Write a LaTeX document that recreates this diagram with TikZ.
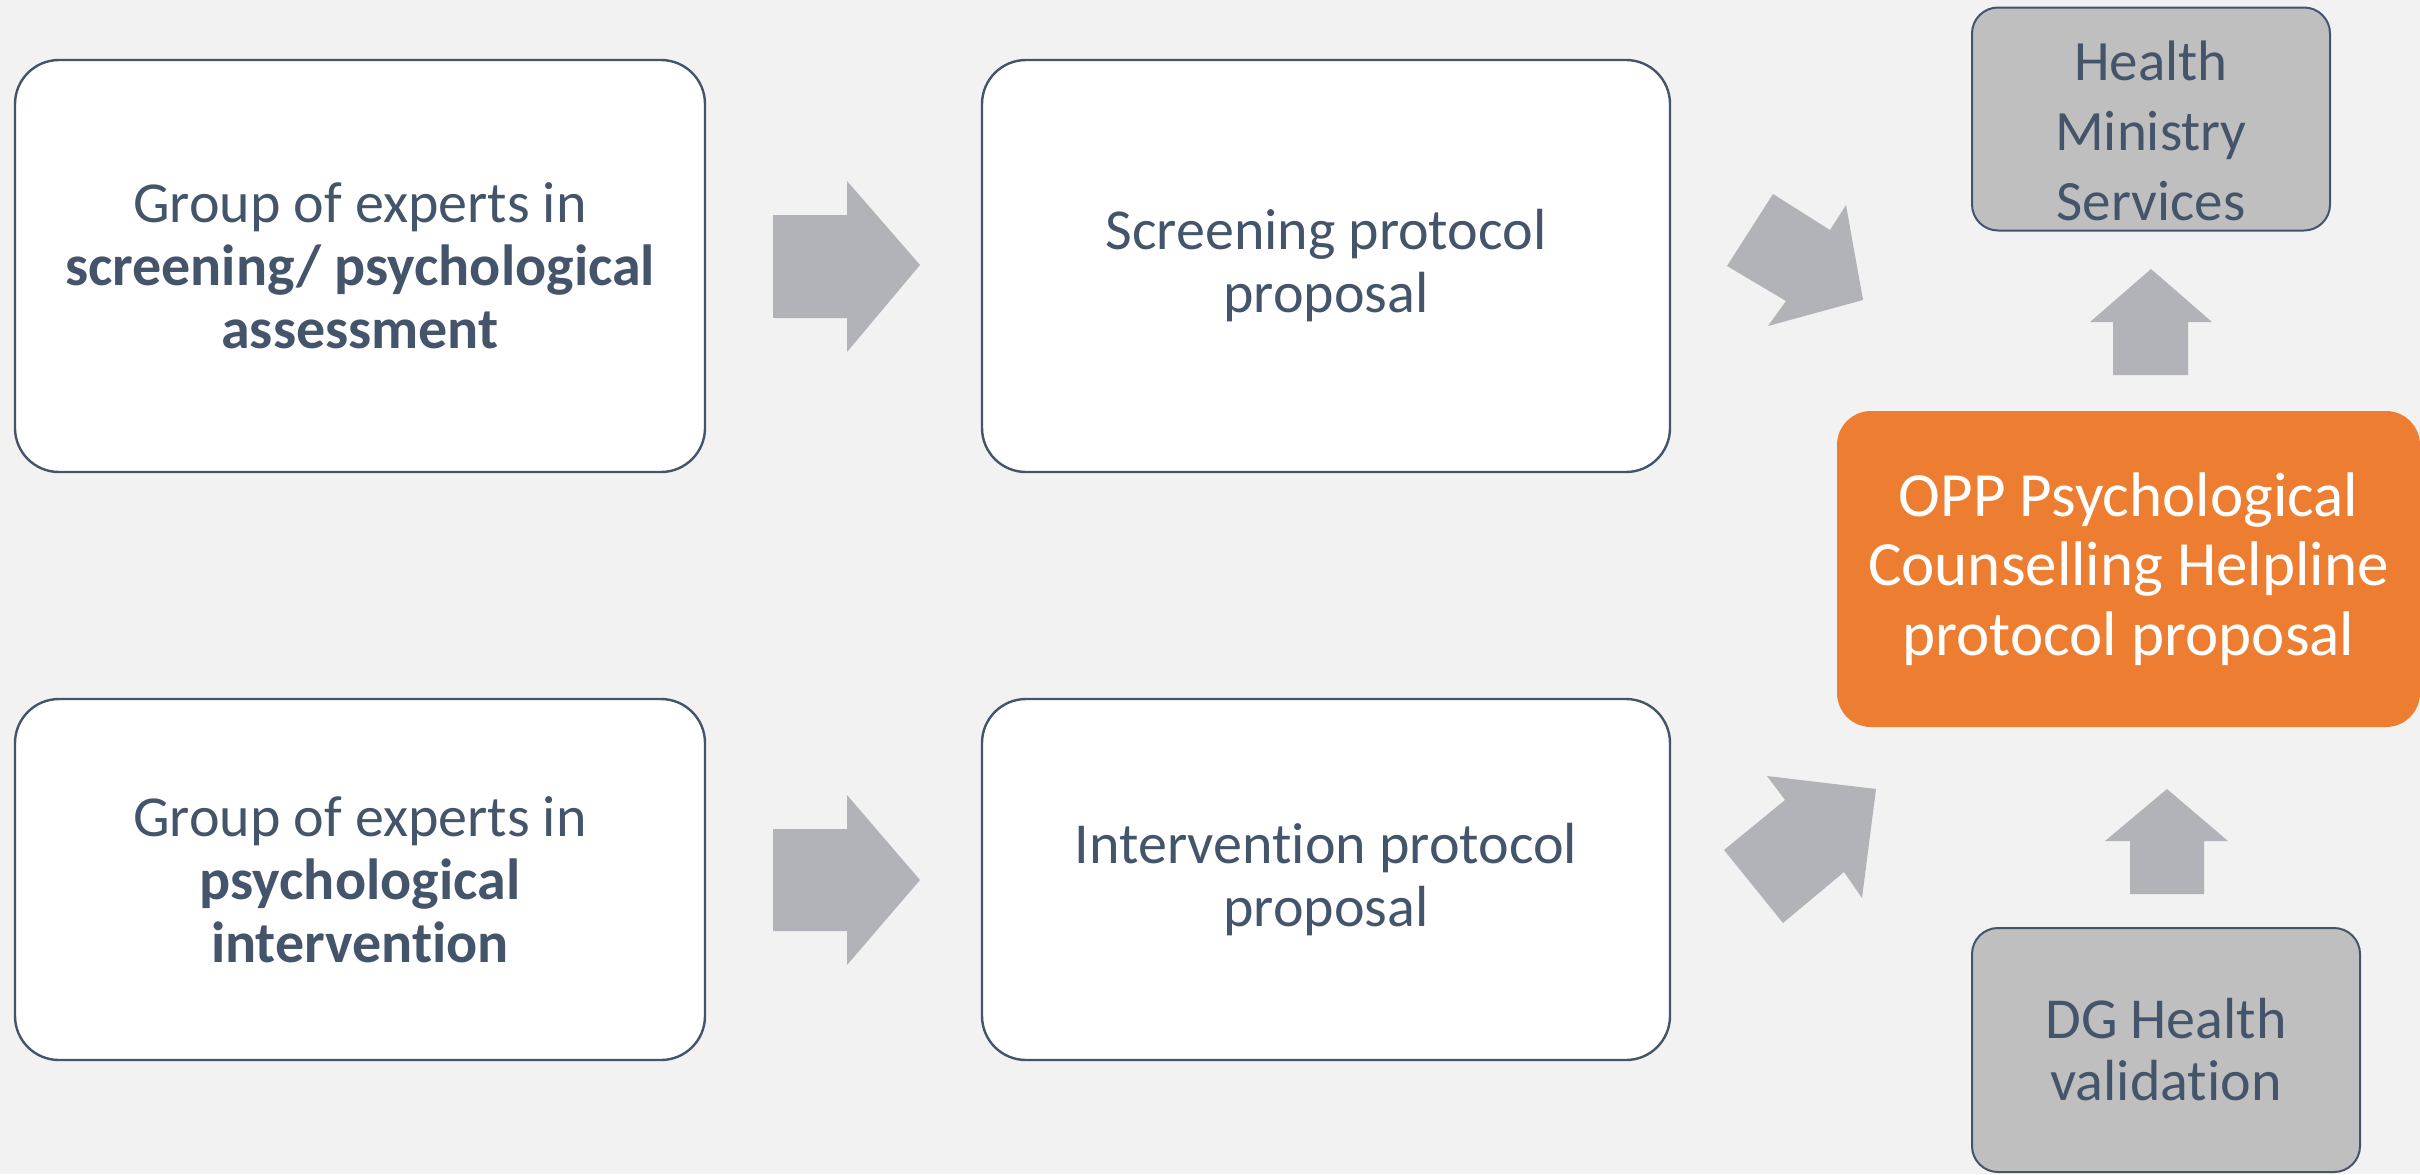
\documentclass[tikz,border=0pt]{standalone}
\usepackage{fontspec}
\setmainfont{Carlito}[Ligatures={NoCommon,NoRequired,NoContextual,NoRare}]
\definecolor{bgc}{RGB}{242,242,242}
\definecolor{slate}{RGB}{68,84,106}
\definecolor{arrowgray}{RGB}{177,179,185}
\definecolor{boxgray}{RGB}{191,191,191}
\definecolor{oppor}{RGB}{237,125,49}
\begin{document}
\begin{tikzpicture}[x=0.5pt,y=-0.5pt,
  whitebox/.style={draw=slate, line width=1.2pt, fill=white, rounded corners=22pt,
    align=center, text=slate, inner sep=0pt, font=\fontsize{29pt}{31.5pt}\selectfont},
  graybox/.style={draw=slate, line width=1pt, fill=boxgray, rounded corners=13pt,
    align=center, text=slate, inner sep=0pt},
  orangebox/.style={fill=oppor, rounded corners=17pt, align=center, text=white,
    inner sep=0pt, font=\fontsize{31.5pt}{34.75pt}\selectfont},
  blockarrow/.style={fill=arrowgray}]
\useasboundingbox (0,0) rectangle (2420,1174);
\fill[bgc] (0,0) rectangle (2420,1174);

% boxes
\node[whitebox, minimum width=345pt, minimum height=206pt] (ga) at (360,266)
  {Group of experts in\\\textbf{screening/ psychological}\\\textbf{assessment}};
\node[whitebox, minimum width=344pt, minimum height=206pt] (sp) at (1326,266)
  {Screening protocol\\proposal};
\node[whitebox, minimum width=345pt, minimum height=180.5pt] (gi) at (360,879.5)
  {Group of experts in\\\textbf{psychological}\\\textbf{intervention}};
\node[whitebox, minimum width=344pt, minimum height=180.5pt] (ip) at (1326,879.5)
  {Intervention protocol\\proposal};
\node[graybox, minimum width=179pt, minimum height=111.5pt] (hms) at (2151,119) {};
\node[align=center, text=slate, inner sep=0pt, font=\fontsize{28.5pt}{35pt}\selectfont]
  (hmst) at ([yshift=-6pt]hms.center) {Health\\Ministry\\Services};
\node[orangebox, minimum width=291.5pt, minimum height=158pt] (opp) at (2128.5,569)
  {OPP Psychological\\Counselling Helpline\\protocol proposal};
\node[graybox, minimum width=194pt, minimum height=122pt,
  font=\fontsize{29pt}{31pt}\selectfont] (dg) at (2166,1050)
  {DG Health\\validation};

% block arrows
\fill[blockarrow] (773,215) -- (847,215) -- (847,181) -- (920,265) -- (847,352)
  -- (847,318) -- (773,318) -- cycle;
\fill[blockarrow] (773,829) -- (847,829) -- (847,795) -- (920,880) -- (847,965)
  -- (847,931) -- (773,931) -- cycle;
\fill[blockarrow] (1773,194) -- (1830,230) -- (1846,205) -- (1863,300) -- (1768,326)
  -- (1786,301) -- (1727,266) -- cycle;
\fill[blockarrow] (1767,776) -- (1876,789) -- (1862,898) -- (1844,872) -- (1783,923)
  -- (1724,850) -- (1785,800) -- cycle;
\fill[blockarrow] (2151,269) -- (2212,322) -- (2188,322) -- (2188,375) -- (2113,375)
  -- (2113,322) -- (2090,322) -- cycle;
\fill[blockarrow] (2167,789) -- (2228,841) -- (2204,841) -- (2204,894) -- (2130,894)
  -- (2130,841) -- (2105,841) -- cycle;
\end{tikzpicture}
\end{document}
